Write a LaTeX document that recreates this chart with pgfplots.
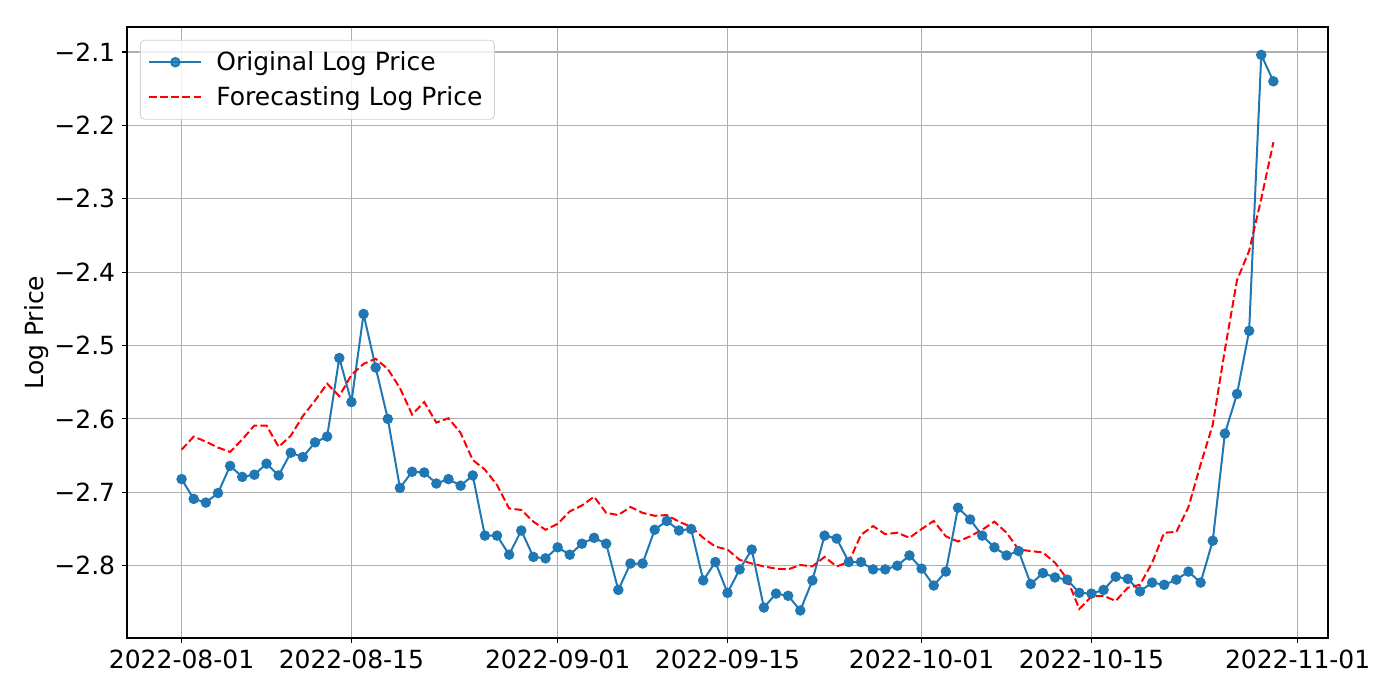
\documentclass[border=0pt]{standalone}
\usepackage{fontspec}
\setmainfont{DejaVu Sans}
\usepackage{pgfplots}
\pgfplotsset{compat=1.18}
\definecolor{mplblue}{HTML}{1F77B4}
\definecolor{gridgray}{HTML}{B0B0B0}
\begin{document}
\begin{tikzpicture}
\path[use as bounding box] (-63.5pt,-31pt) rectangle (636.5pt,319pt);
\begin{axis}[
  at={(0pt,0pt)}, anchor=south west,
  scale only axis, width=600.5pt, height=305.5pt,
  xmin=-4.5, xmax=94.5, ymin=-2.8985, ymax=-2.066,
  xtick={0,14,31,45,61,75,92},
  xticklabels={2022-08-01,2022-08-15,2022-09-01,2022-09-15,2022-10-01,2022-10-15,2022-11-01},
  ytick={-2.8,-2.7,-2.6,-2.5,-2.4,-2.3,-2.2,-2.1},
  yticklabels={−2.8,−2.7,−2.6,−2.5,−2.4,−2.3,−2.2,−2.1},
  tick label style={font=\fontsize{12.5}{15}\selectfont},
  ylabel={Log Price},
  ylabel style={font=\fontsize{12.5}{15}\selectfont, at={(axis description cs:-0.075,0.5)}, anchor=center},
  grid=major,
  major grid style={gridgray, line width=0.55pt},
  axis line style={black, line width=0.55pt},
  major tick length=2.4pt,
  tick style={black, line width=0.55pt},
  tick align=outside,
  xtick pos=bottom, ytick pos=left,
  legend style={at={(axis description cs:0.0108,0.979)}, anchor=north west,
    font=\fontsize{12.5}{15}\selectfont, draw=gray!35, rounded corners=2pt,
    fill=white, fill opacity=0.8, text opacity=1, inner xsep=4pt, inner ysep=3.5pt,
    row sep=2.5pt, /tikz/every odd column/.append style={column sep=5pt}},
  legend cell align=left,
  legend image code/.code={\draw[mark repeat=2,mark phase=2,#1] plot coordinates {(0pt,0pt)(13pt,0pt)(26pt,0pt)};},
]
\addplot[mplblue, line width=1pt, mark=*, mark size=2.1pt, mark options={solid, fill=mplblue, draw=mplblue}] coordinates {
(0,-2.682)(1,-2.709)(2,-2.714)(3,-2.701)(4,-2.664)(5,-2.679)(6,-2.676)(7,-2.661)(8,-2.677)(9,-2.646)
(10,-2.652)(11,-2.632)(12,-2.624)(13,-2.517)(14,-2.577)(15,-2.457)(16,-2.530)(17,-2.600)(18,-2.694)(19,-2.672)
(20,-2.673)(21,-2.688)(22,-2.682)(23,-2.691)(24,-2.677)(25,-2.759)(26,-2.759)(27,-2.785)(28,-2.752)(29,-2.788)
(30,-2.790)(31,-2.775)(32,-2.785)(33,-2.770)(34,-2.762)(35,-2.770)(36,-2.833)(37,-2.797)(38,-2.797)(39,-2.751)
(40,-2.739)(41,-2.752)(42,-2.750)(43,-2.820)(44,-2.795)(45,-2.837)(46,-2.805)(47,-2.778)(48,-2.857)(49,-2.838)
(50,-2.841)(51,-2.861)(52,-2.820)(53,-2.759)(54,-2.763)(55,-2.795)(56,-2.795)(57,-2.805)(58,-2.805)(59,-2.800)
(60,-2.786)(61,-2.804)(62,-2.827)(63,-2.808)(64,-2.721)(65,-2.737)(66,-2.759)(67,-2.775)(68,-2.786)(69,-2.780)
(70,-2.825)(71,-2.810)(72,-2.816)(73,-2.819)(74,-2.837)(75,-2.838)(76,-2.833)(77,-2.815)(78,-2.818)(79,-2.835)
(80,-2.823)(81,-2.826)(82,-2.819)(83,-2.808)(84,-2.823)(85,-2.766)(86,-2.620)(87,-2.566)(88,-2.480)(89,-2.104)
(90,-2.140)
};
\addlegendentry{Original Log Price}
\addplot[red, line width=1pt, dash pattern=on 3.85pt off 1.67pt, no marks] coordinates {
(0,-2.642)(1,-2.624)(2,-2.631)(3,-2.639)(4,-2.645)(5,-2.628)(6,-2.609)(7,-2.609)(8,-2.638)(9,-2.623)
(10,-2.596)(11,-2.575)(12,-2.552)(13,-2.569)(14,-2.540)(15,-2.525)(16,-2.518)(17,-2.532)(18,-2.558)(19,-2.594)
(20,-2.577)(21,-2.605)(22,-2.599)(23,-2.619)(24,-2.656)(25,-2.669)(26,-2.690)(27,-2.722)(28,-2.724)(29,-2.740)
(30,-2.751)(31,-2.743)(32,-2.726)(33,-2.718)(34,-2.706)(35,-2.728)(36,-2.731)(37,-2.720)(38,-2.728)(39,-2.732)
(40,-2.731)(41,-2.740)(42,-2.747)(43,-2.762)(44,-2.774)(45,-2.778)(46,-2.792)(47,-2.797)(48,-2.801)(49,-2.804)
(50,-2.805)(51,-2.799)(52,-2.801)(53,-2.788)(54,-2.801)(55,-2.795)(56,-2.758)(57,-2.746)(58,-2.757)(59,-2.755)
(60,-2.762)(61,-2.750)(62,-2.739)(63,-2.760)(64,-2.767)(65,-2.760)(66,-2.751)(67,-2.740)(68,-2.755)(69,-2.778)
(70,-2.780)(71,-2.782)(72,-2.796)(73,-2.818)(74,-2.859)(75,-2.842)(76,-2.841)(77,-2.848)(78,-2.830)(79,-2.826)
(80,-2.796)(81,-2.755)(82,-2.754)(83,-2.720)(84,-2.662)(85,-2.608)(86,-2.506)(87,-2.411)(88,-2.371)(89,-2.300)
(90,-2.223)
};
\addlegendentry{Forecasting Log Price}
\end{axis}
\end{tikzpicture}
\end{document}
